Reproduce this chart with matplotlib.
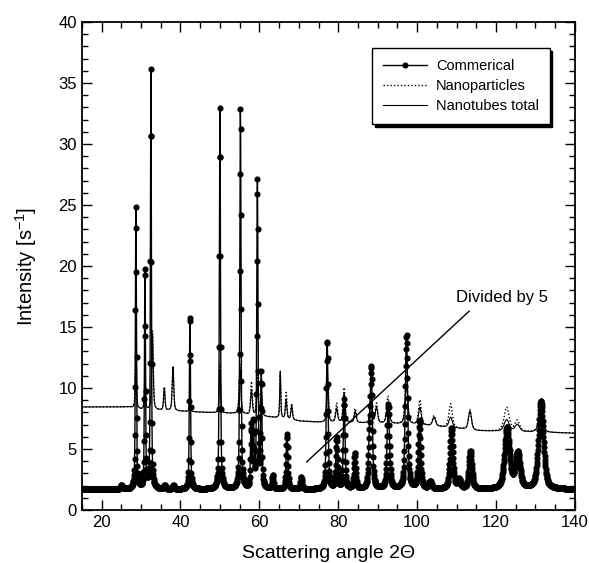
import numpy as np
import matplotlib
matplotlib.use("Agg")
import matplotlib.pyplot as plt

plt.rcParams['font.family'] = ['Liberation Sans', 'DejaVu Sans']
plt.rcParams['mathtext.default'] = 'regular'

# commercial powder (divided by 5): peak position, height above background, FWHM
comm_pos = [25.0, 28.7, 31.0, 32.5, 36.0, 38.2, 42.4, 50.0, 55.2, 57.9, 58.5, 59.5, 60.5,
            63.4, 67.0, 70.6, 77.2, 79.6, 81.5, 84.2, 87.9, 88.4, 92.7, 97.3, 100.6,
            103.3, 108.7, 110.6, 113.5, 122.8, 125.5, 131.4]
comm_height = [0.3, 23.4, 18.4, 34.3, 0.3, 0.3, 14.4, 31.2, 31.4, 5.0, 5.2, 25.4, 9.2,
               1.1, 4.5, 1.0, 12.2, 4.1, 7.3, 2.9, 3.2, 9.4, 6.9, 12.6, 5.6,
               0.6, 5.0, 0.7, 3.1, 5.0, 2.9, 7.2]
comm_fwhm = [0.6, 0.3, 0.3, 0.3, 0.5, 0.5, 0.34, 0.34, 0.36, 0.35, 0.35, 0.37, 0.37,
             0.45, 0.5, 0.5, 0.5, 0.5, 0.5, 0.55, 0.6, 0.6, 0.7, 0.7, 0.7,
             0.8, 0.9, 0.9, 0.9, 1.5, 1.4, 1.5]
comm_bg = 1.7

# nanophase samples: background knots and peaks (absolute heights)
bg_x = [15, 27, 30, 40, 50, 55, 60, 65, 70, 75, 90, 100, 105, 110, 115, 140]
bg_y = [8.45, 8.45, 8.25, 8.1, 7.95, 7.9, 7.7, 7.55, 7.3, 7.2, 7.1, 7.0, 6.85, 6.7, 6.5, 6.3]
nano_pos = [28.7, 31.0, 32.9, 35.9, 38.1, 42.4, 50.0, 55.1, 58.0, 59.5, 60.5, 65.3, 66.8,
            68.2, 77.3, 79.6, 81.5, 84.3, 88.3, 89.7, 92.6, 97.3, 100.7, 104.3,
            108.5, 113.4, 122.7, 125.4, 131.3]
particles_top = [13.0, 11.0, 14.7, 10.1, 11.8, 9.0, 12.0, 12.0, 10.5, 11.0, 10.0, 11.2, 9.6,
                 8.7, 11.0, 8.7, 10.0, 8.3, 9.2, 8.7, 9.3, 10.8, 9.0, 7.7,
                 8.7, 8.2, 8.4, 7.3, 7.6]
tubes_top = [12.5, 10.5, 14.5, 10.0, 11.7, 8.8, 11.5, 11.5, 9.8, 10.5, 9.6, 11.5, 9.0,
             8.5, 10.5, 8.3, 9.5, 8.1, 8.8, 8.4, 8.8, 10.2, 8.4, 7.6,
             7.6, 8.1, 7.4, 7.0, 7.4]
nano_fwhm = [0.35, 0.35, 0.45, 0.4, 0.45, 0.4, 0.4, 0.5, 0.5, 0.45, 0.45, 0.3, 0.45,
             0.45, 0.5, 0.6, 0.6, 0.6, 0.6, 0.7, 0.8, 0.8, 0.8, 0.9,
             1.0, 0.9, 1.5, 1.4, 1.5]


def profile(x, pos, height, fwhm, eta=0.5):
    y = np.zeros_like(x)
    for p, h, w in zip(pos, height, fwhm):
        d = (x - p) / (w / 2)
        y += h * (eta / (1 + d ** 2) + (1 - eta) * np.exp(-np.log(2) * d ** 2))
    return y


x = np.arange(15, 140.001, 0.07)
commercial = comm_bg + profile(x, comm_pos, comm_height, comm_fwhm)
bg = np.interp(x, bg_x, bg_y)
bg_at_peaks = np.interp(nano_pos, bg_x, bg_y)
particles = bg + profile(x, nano_pos, np.array(particles_top) - bg_at_peaks, nano_fwhm)
tubes = bg + profile(x, nano_pos, np.array(tubes_top) - bg_at_peaks, nano_fwhm)

fig = plt.figure(figsize=(5.89, 5.63), dpi=100)
ax = fig.add_axes([0.139, 0.094, 0.837, 0.867])

ax.plot(x, particles, color='black', linestyle=(0, (1, 1.5)), lw=1.0, label='Nanoparticles')
ax.plot(x, tubes, color='black', lw=0.8, label='Nanotubes total')
ax.plot(x, commercial, color='black', lw=1.0, marker='o', markersize=3.4,
        label='Commerical')

# "Divided by 5" pointer
ax.plot([72.0, 113.2], [3.95, 16.3], color='black', lw=1.0)
ax.text(121.5, 17.4, 'Divided by 5', fontsize=12, ha='center', va='center')

ax.set_xlim(15, 140)
ax.set_ylim(0, 40)
ax.set_xticks(range(20, 141, 20))
ax.set_xticks(range(15, 141, 5), minor=True)
ax.set_yticks(range(0, 41, 5))
ax.set_yticks(range(0, 41, 1), minor=True)
ax.tick_params(which='both', direction='in', top=True, right=True, labelsize=12, width=1.0)
ax.tick_params(which='major', length=7)
ax.tick_params(which='minor', length=4)
for s in ax.spines.values():
    s.set_linewidth(1.3)

ax.set_xlabel('Scattering angle 2\u0398', fontsize=14, labelpad=11)
ax.set_ylabel('Intensity [s$^{-1}$]', fontsize=14.5, labelpad=14)

h, l = ax.get_legend_handles_labels()
order = [2, 0, 1]
leg = ax.legend([h[i] for i in order], [l[i] for i in order], loc='upper right',
                bbox_to_anchor=(0.949, 0.947), borderaxespad=0, fontsize=10.5, numpoints=1,
                handlelength=3.0, handletextpad=0.6, fancybox=False, framealpha=1,
                edgecolor='black', shadow={'color': 'black', 'alpha': 1},
                borderpad=0.75, labelspacing=0.42)
leg.get_frame().set_linewidth(1.0)

fig.savefig('out.png', dpi=100)
